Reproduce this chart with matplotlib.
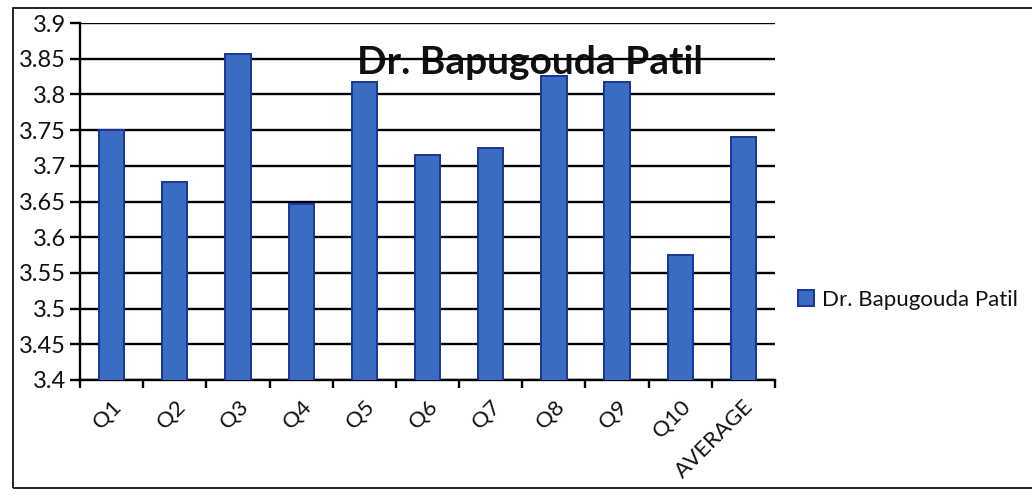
import matplotlib
matplotlib.use("Agg")
import matplotlib.pyplot as plt
from matplotlib.patches import Rectangle
import numpy as np

categories = ["Q1", "Q2", "Q3", "Q4", "Q5", "Q6", "Q7", "Q8", "Q9", "Q10", "AVERAGE"]
values = [3.75, 3.678, 3.857, 3.647, 3.818, 3.715, 3.725, 3.826, 3.817, 3.575, 3.74]
series_name = "Dr. Bapugouda Patil"
yticks = [3.4, 3.45, 3.5, 3.55, 3.6, 3.65, 3.7, 3.75, 3.8, 3.85, 3.9]
ytick_labels = ["3.4", "3.45", "3.5", "3.55", "3.6", "3.65", "3.7", "3.75", "3.8", "3.85", "3.9"]

plt.rcParams['font.family'] = ['Lato', 'DejaVu Sans']

fig = plt.figure(figsize=(10.32, 5.0), dpi=100)
fig.patch.set_facecolor("white")
ax = fig.add_axes([80/1032, 120/500, 695/1032, 357/500])

x = np.arange(len(categories))
ax.bar(x, values, width=0.4, bottom=0, color="#3a6cc2", edgecolor="#1a3596",
       linewidth=1.4, label=series_name, zorder=3)

ax.set_ylim(3.4, 3.9)
ax.set_xlim(-0.5, len(categories) - 0.5)
ax.set_yticks(yticks)
ax.set_yticklabels(ytick_labels, fontsize=17, color="#111111")
ax.yaxis.grid(True, color="black", linewidth=1.7, zorder=2)
ax.set_axisbelow(False)

ax.set_xticks(x)
ax.set_xticklabels(categories, rotation=45, ha="right", rotation_mode="anchor",
                   fontsize=16, color="#111111")
ax.tick_params(axis="x", which="major", length=0, pad=12)
ax.set_xticks(np.arange(-0.5, len(categories), 1.0), minor=True)
ax.tick_params(axis="x", which="minor", length=6, width=1.7, color="black", direction="out")
ax.tick_params(axis="y", length=7, width=1.7, color="black", direction="out", pad=3)

for s in ["top", "right"]:
    ax.spines[s].set_visible(False)
for s in ["left", "bottom"]:
    ax.spines[s].set_linewidth(1.7)
    ax.spines[s].set_color("black")

ax.text(0.647, 0.89, series_name, transform=ax.transAxes, ha="center", va="center",
        fontsize=28, fontweight="bold", color="#111111", zorder=1)

ax.legend(loc="center left", bbox_to_anchor=(778/1032, 200/500), bbox_transform=fig.transFigure,
          frameon=False, fontsize=16, handlelength=0.7, handleheight=0.7, handletextpad=0.4,
          labelcolor="#111111")

fig.patches.append(Rectangle((13/1032, 12/500), 1.1, 480/500, transform=fig.transFigure,
                             fill=False, edgecolor="black", linewidth=1.2))

fig.savefig("out.png", dpi=100)
